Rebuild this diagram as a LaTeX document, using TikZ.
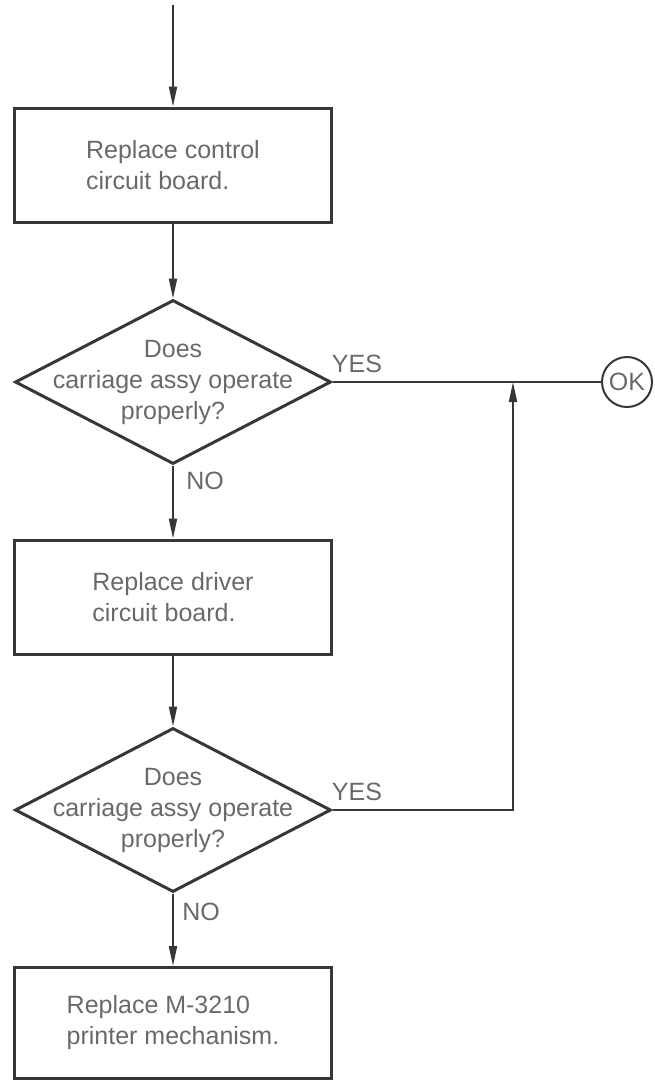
\documentclass[tikz,border=0pt]{standalone}
\usepackage{fontspec}
\setmainfont{Liberation Sans}
\usepackage{tikz}
\usetikzlibrary{shapes.geometric, arrows.meta}
\definecolor{ink}{RGB}{55, 55, 55}
\definecolor{inkgray}{RGB}{105, 105, 105}

\begin{document}
\begin{tikzpicture}[x=1pt, y=-1pt,
    every node/.style={font=\fontsize{25}{31}\selectfont, text=inkgray},
    box/.style={draw=ink, line width=3, minimum width=317, minimum height=114, align=left},
    decision/.style={diamond, draw=ink, line width=3, minimum width=316, minimum height=164,
                     inner sep=0},
    question/.style={align=center, inner sep=0},
    flow/.style={draw=ink, line width=2, -{Triangle[length=20pt, width=8pt]}},
    link/.style={draw=ink, line width=2}]

  \useasboundingbox (0, 0) rectangle (654, 1080);

  % boxes and decisions
  \coordinate (start) at (173, 5);
  \node[box] (control) at (173, 165) {Replace control\\circuit board.};
  \node[decision] (check1) at (173, 382) {};
  \node[question] (ask1) at (check1) {Does\\carriage assy operate\\properly?};
  \node[box] (driver) at (173, 597) {Replace driver\\circuit board.};
  \node[decision] (check2) at (173, 810) {};
  \node[question] (ask2) at (check2) {Does\\carriage assy operate\\properly?};
  \node[box, minimum height=111] (mech) at (173, 1023) {Replace M-3210\\printer mechanism.};

  \node[circle, draw=ink, line width=2, minimum size=50, inner sep=0] (ok) at (627, 382) {OK};
  \coordinate (join) at (513, 382);

  % labels
  \node (yes1) at (357, 364) {YES};
  \node (no1) at (205, 481) {NO};
  \node (yes2) at (357, 792) {YES};
  \node (no2) at (201, 912) {NO};

  % connectors
  \draw[flow] (start) -- (control);
  \draw[flow] (control) -- (check1);
  \draw[link] (check1.east) -- (ok);
  \draw[flow] (check1) -- (driver);
  \draw[flow] (driver) -- (check2);
  \draw[flow] (check2.east) -| (join);
  \draw[flow] (check2) -- (mech);

\end{tikzpicture}
\end{document}
